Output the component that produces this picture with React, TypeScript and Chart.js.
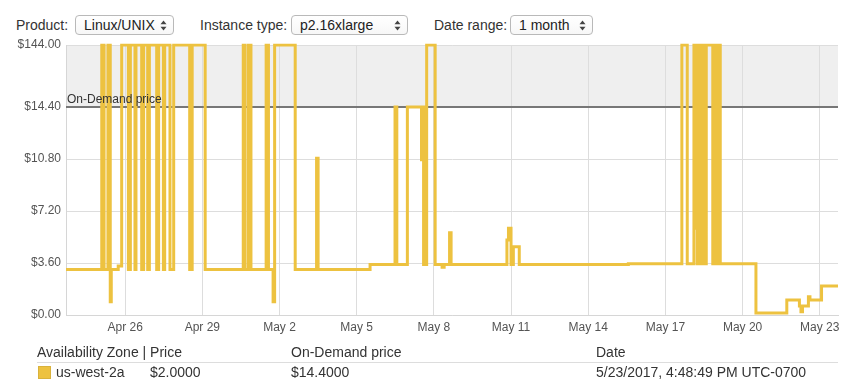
import React, { useEffect, useRef } from "react";
import { Chart, registerables, LinearScale } from "chart.js";

// ---- data ----
// x values: day number (April days as-is, May days = 30 + day)
const priceDays = [
  23.7, 25.09, 25.18, 25.33, 25.42, 25.46, 25.73, 25.864,
  26.124, 26.202, 26.381, 26.42, 26.642, 26.719, 26.875, 26.941,
  27.225, 27.302, 27.485, 27.536, 27.742, 27.886,
  28.508, 28.605, 29.11,
  30.59, 30.66, 30.79, 30.89, 31.48, 31.57, 31.75, 31.81, 32.61,
  33.44, 33.5, 35.52,
  36.49, 36.56, 36.97, 37.52, 37.56, 37.6, 37.64, 37.68, 37.72,
  38.05, 38.32, 38.4, 38.61, 38.67,
  40.84, 40.9, 41.0, 41.09, 41.32, 45.56,
  47.64, 47.85, 48.11, 48.19, 48.24,
  48.298, 48.356, 48.395, 48.453, 48.492, 48.55, 48.589,
  48.842, 48.9, 48.939, 48.997, 49.036, 49.094, 49.133,
  50.52, 51.72, 52.21, 52.27, 52.33, 52.56, 52.62, 53.07, 53.71,
];
const priceValues = [
  3.15, 144, 3.15, 144, 0.92, 3.15, 3.4, 144,
  3.15, 144, 3.15, 144, 3.15, 144, 3.15, 144,
  3.15, 144, 3.15, 144, 3.15, 144,
  3.15, 144, 3.15,
  144, 3.15, 144, 3.15, 144, 3.15, 0.92, 144, 3.15,
  10.85, 3.15, 3.5,
  14.4, 3.5, 14.4, 10.75, 14.4, 3.5, 14.4, 3.5, 144,
  3.5, 3.3, 3.5, 5.7, 3.5,
  5.2, 6.0, 3.5, 4.73, 3.5, 3.55,
  144, 3.55, 144, 6.0, 3.55,
  144, 3.55, 144, 3.55, 144, 3.55, 144,
  3.55, 144, 3.55, 144, 3.55, 144, 3.55,
  0.14, 1.04, 0.62, 0.23, 0.62, 1.27, 1.04, 2.0, 2.0,
];
const onDemandPrice = 14.4;
const capPrice = 144;
const xMin = 23.7;
const xMax = 53.71;
const xTickDays = [26, 29, 32, 35, 38, 41, 44, 47, 50, 53];
const xTickLabels = ["Apr 26", "Apr 29", "May 2", "May 5", "May 8", "May 11", "May 14", "May 17", "May 20", "May 23"];
const yTickValues = [0, 3.6, 7.2, 10.8, 14.4, 144];
const yTickLabels = ["$0.00", "$3.60", "$7.20", "$10.80", "$14.40", "$144.00"];

const FONT = "'Liberation Sans', Arial, Helvetica, sans-serif";
const GOLD = "#edc240";

// piecewise scale: linear to on-demand price, compressed band above it
const TOP_SPAN = 4.3;
const fwd = (v: number) => (v <= onDemandPrice ? v : onDemandPrice + ((v - onDemandPrice) / (capPrice - onDemandPrice)) * TOP_SPAN);
const inv = (t: number) => (t <= onDemandPrice ? t : onDemandPrice + ((t - onDemandPrice) / TOP_SPAN) * (capPrice - onDemandPrice));

class SpotPriceScale extends (LinearScale as any) {
  static id = "spotprice";
  static defaults = {};
  determineDataLimits() {
    this.min = 0;
    this.max = fwd(capPrice);
  }
  buildTicks() {
    return yTickValues.map((v) => ({ value: v }));
  }
  getPixelForValue(v: number) {
    return super.getPixelForValue(fwd(v));
  }
  getValueForPixel(p: number) {
    return inv(super.getValueForPixel(p));
  }
}

Chart.register(...registerables, SpotPriceScale as any);

const bandPlugin = {
  id: "onDemandBand",
  beforeDraw(chart: any) {
    const { ctx, chartArea, scales } = chart;
    const yOD = scales.y.getPixelForValue(onDemandPrice);
    ctx.save();
    ctx.fillStyle = "#efefef";
    ctx.fillRect(chartArea.left, chartArea.top, chartArea.right - chartArea.left, yOD - chartArea.top);
    ctx.restore();
  },
  beforeDatasetsDraw(chart: any) {
    const { ctx, chartArea, scales } = chart;
    const yOD = scales.y.getPixelForValue(onDemandPrice);
    ctx.save();
    ctx.strokeStyle = "#777777";
    ctx.lineWidth = 2;
    ctx.beginPath();
    ctx.moveTo(chartArea.left, yOD);
    ctx.lineTo(chartArea.right, yOD);
    ctx.stroke();
    ctx.restore();
  },
  afterDatasetsDraw(chart: any) {
    const { ctx, chartArea, scales } = chart;
    const yOD = scales.y.getPixelForValue(onDemandPrice);
    ctx.save();
    ctx.fillStyle = "#333333";
    ctx.font = `12px ${FONT}`;
    ctx.textBaseline = "alphabetic";
    ctx.textAlign = "left";
    ctx.fillText("On-Demand price", chartArea.left + 1, yOD - 4);
    ctx.restore();
  },
};

function Arrows({ left }: { left: number }) {
  return (
    <svg width="7" height="11" style={{ position: "absolute", left, top: 4 }} viewBox="0 0 7 11">
      <path d="M3.5 0.5 L6.5 4.2 L0.5 4.2 Z" fill="#444" />
      <path d="M3.5 10.5 L6.5 6.8 L0.5 6.8 Z" fill="#444" />
    </svg>
  );
}

function SelectBox({ left, width, text }: { left: number; width: number; text: string }) {
  return (
    <div
      style={{
        position: "absolute",
        left,
        top: 15,
        width,
        height: 20,
        boxSizing: "border-box",
        border: "1px solid #b9b9b9",
        borderRadius: 4,
        background: "linear-gradient(#ffffff, #f7f7f7)",
        fontSize: 14,
        lineHeight: "18px",
        color: "#222",
      }}
    >
      <span style={{ position: "absolute", left: 8, top: 0, whiteSpace: "nowrap" }}>{text}</span>
      <Arrows left={width - 15} />
    </div>
  );
}

const labelStyle: React.CSSProperties = {
  position: "absolute",
  top: 15,
  fontSize: 14,
  lineHeight: "20px",
  color: "#333",
  whiteSpace: "nowrap",
};

export default function App() {
  const ref = useRef<HTMLCanvasElement>(null);
  useEffect(() => {
    const data = priceDays.map((d, i) => ({ x: d, y: priceValues[i] }));
    const chart = new Chart(ref.current as HTMLCanvasElement, {
      type: "line",
      data: {
        datasets: [
          {
            label: "us-west-2a",
            data,
            borderColor: GOLD,
            backgroundColor: GOLD,
            borderWidth: 3,
            pointRadius: 0,
            stepped: "before",
            fill: false,
            borderJoinStyle: "miter",
          } as any,
        ],
      },
      options: {
        animation: false,
        responsive: false,
        maintainAspectRatio: false,
        devicePixelRatio: 1,
        layout: { padding: { top: 45, right: 14, left: 0, bottom: 0 } },
        plugins: { legend: { display: false }, tooltip: { enabled: false } },
        scales: {
          x: {
            type: "linear",
            min: xMin,
            max: xMax,
            afterBuildTicks: (axis: any) => {
              axis.ticks = xTickDays.map((v) => ({ value: v }));
            },
            afterFit: (axis: any) => {
              axis.height = 30;
            },
            ticks: {
              autoSkip: false,
              maxRotation: 0,
              padding: 5,
              color: "#545454",
              font: { family: FONT, size: 12 },
              callback: (_v: any, i: number) => xTickLabels[i],
            },
            grid: { color: "#dddddd", drawTicks: false, lineWidth: 1 },
            border: { color: "#d6d6d6" },
          },
          y: {
            type: "spotprice" as any,
            afterFit: (axis: any) => {
              axis.width = 66;
            },
            ticks: {
              autoSkip: false,
              padding: 5,
              color: "#545454",
              font: { family: FONT, size: 12 },
              callback: (_v: any, i: number) => yTickLabels[i],
            },
            grid: { color: "#dddddd", drawTicks: false, lineWidth: 1 },
            border: { color: "#d6d6d6" },
          } as any,
        },
      },
      plugins: [bandPlugin],
    } as any);
    return () => chart.destroy();
  }, []);

  return (
    <div
      style={{
        position: "absolute",
        left: 0,
        top: 0,
        width: 852,
        height: 385,
        background: "#fff",
        fontFamily: FONT,
        color: "#333",
        overflow: "hidden",
      }}
    >
      <span style={{ ...labelStyle, left: 16 }}>Product:</span>
      <SelectBox left={75} width={99} text="Linux/UNIX" />
      <span style={{ ...labelStyle, left: 200 }}>Instance type:</span>
      <SelectBox left={291} width={117} text="p2.16xlarge" />
      <span style={{ ...labelStyle, left: 434 }}>Date range:</span>
      <SelectBox left={510} width={83} text="1 month" />

      <canvas ref={ref} width={852} height={345} style={{ position: "absolute", left: 0, top: 0, width: 852, height: 345 }} />

      <div style={{ position: "absolute", left: 0, top: 343, width: 852, fontSize: 14, lineHeight: "18px", color: "#333" }}>
        <span style={{ position: "absolute", left: 37, top: 0, whiteSpace: "nowrap" }}>Availability Zone | Price</span>
        <span style={{ position: "absolute", left: 291, top: 0, whiteSpace: "nowrap" }}>On-Demand price</span>
        <span style={{ position: "absolute", left: 596, top: 0, whiteSpace: "nowrap" }}>Date</span>
      </div>
      <div style={{ position: "absolute", left: 37, top: 362, width: 801, height: 1, background: "#dddddd" }} />
      <div style={{ position: "absolute", left: 0, top: 363, width: 852, fontSize: 14, lineHeight: "18px", color: "#333" }}>
        <div style={{ position: "absolute", left: 38, top: 3, width: 13, height: 13, boxSizing: "border-box", background: GOLD, border: "1px solid #d9b23c" }} />
        <span style={{ position: "absolute", left: 56, top: 0, whiteSpace: "nowrap" }}>us-west-2a</span>
        <span style={{ position: "absolute", left: 150, top: 0, whiteSpace: "nowrap" }}>$2.0000</span>
        <span style={{ position: "absolute", left: 291, top: 0, whiteSpace: "nowrap" }}>$14.4000</span>
        <span style={{ position: "absolute", left: 596, top: 0, whiteSpace: "nowrap" }}>5/23/2017, 4:48:49 PM UTC-0700</span>
      </div>
    </div>
  );
}
